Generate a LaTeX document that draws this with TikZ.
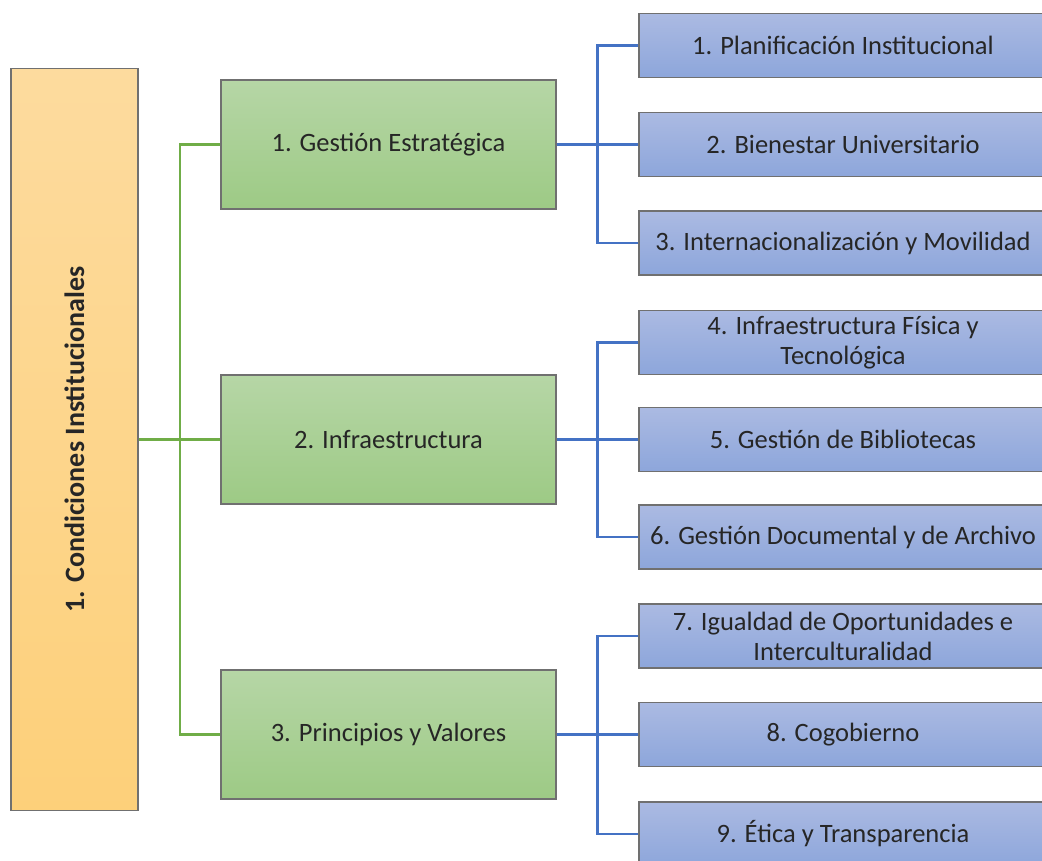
\documentclass[tikz,border=0pt]{standalone}
\usepackage{fontspec}
\setmainfont{Carlito}
\definecolor{orangetop}{RGB}{253,219,158}
\definecolor{orangebot}{RGB}{253,208,122}
\definecolor{greentop}{RGB}{182,214,166}
\definecolor{greenbot}{RGB}{157,202,133}
\definecolor{bluetop}{RGB}{171,186,226}
\definecolor{bluebot}{RGB}{141,166,219}
\definecolor{boxgray}{RGB}{112,112,112}
\definecolor{txtgray}{RGB}{38,38,38}
\definecolor{linegreen}{RGB}{112,173,71}
\definecolor{lineblue}{RGB}{68,114,196}
\begin{document}
\begin{tikzpicture}[x=1pt,y=-1pt,
  box/.style={draw=boxgray,line width=1.2pt,inner sep=0pt,align=center,text=txtgray,font=\fontsize{26.5}{30}\selectfont},
  mainbox/.style={box,top color=orangetop,bottom color=orangebot,minimum width=127pt,minimum height=742pt},
  catbox/.style={box,top color=greentop,bottom color=greenbot,minimum width=335pt,minimum height=129pt},
  subbox/.style={box,top color=bluetop,bottom color=bluebot,minimum width=408pt,minimum height=64pt},
  greenline/.style={draw=linegreen,line width=2.2pt},
  blueline/.style={draw=lineblue,line width=2.2pt}]
\clip (0,0) rectangle (1042,861);
\node[mainbox] (cond) at (74.5,439.5) {};
\node[rotate=90,text=txtgray,font=\fontsize{28}{32}\selectfont\bfseries] (condtext) at (cond.center) {1. Condiciones Institucionales};
\node[catbox] (cat1) at (388.5,144.5) {1. Gestión Estratégica};
\node[catbox] (cat2) at (388.5,439.5) {2. Infraestructura};
\node[catbox] (cat3) at (388.5,734.5) {3. Principios y Valores};
\node[subbox] (sub1) at (843,45.5) {1. Planificación Institucional};
\node[subbox] (sub2) at (843,144.5) {2. Bienestar Universitario};
\node[subbox] (sub3) at (843,243) {3. Internacionalización y Movilidad};
\node[subbox] (sub4) at (843,342.5) {4. Infraestructura Física y\\Tecnológica};
\node[subbox] (sub5) at (843,439.5) {5. Gestión de Bibliotecas};
\node[subbox] (sub6) at (843,537) {6. Gestión Documental y de Archivo};
\node[subbox] (sub7) at (843,636) {7. Igualdad de Oportunidades e\\Interculturalidad};
\node[subbox] (sub8) at (843,734.5) {8. Cogobierno};
\node[subbox] (sub9) at (843,834) {9. Ética y Transparencia};
% green branches
\coordinate (gsplit) at (180,439.5);
\draw[greenline] (cond.east) -- (cat2.west);
\draw[greenline] (cat1.west) -| (gsplit) |- (cat3.west);
% blue branches
\coordinate (bsplit1) at (597.5,144.5);
\coordinate (bsplit2) at (597.5,439.5);
\coordinate (bsplit3) at (597.5,734.5);
\draw[blueline] (cat1.east) -- (sub2.west);
\draw[blueline] (sub1.west) -| (bsplit1) |- (sub3.west);
\draw[blueline] (cat2.east) -- (sub5.west);
\draw[blueline] (sub4.west) -| (bsplit2) |- (sub6.west);
\draw[blueline] (cat3.east) -- (sub8.west);
\draw[blueline] (sub7.west) -| (bsplit3) |- (sub9.west);
\end{tikzpicture}
\end{document}
